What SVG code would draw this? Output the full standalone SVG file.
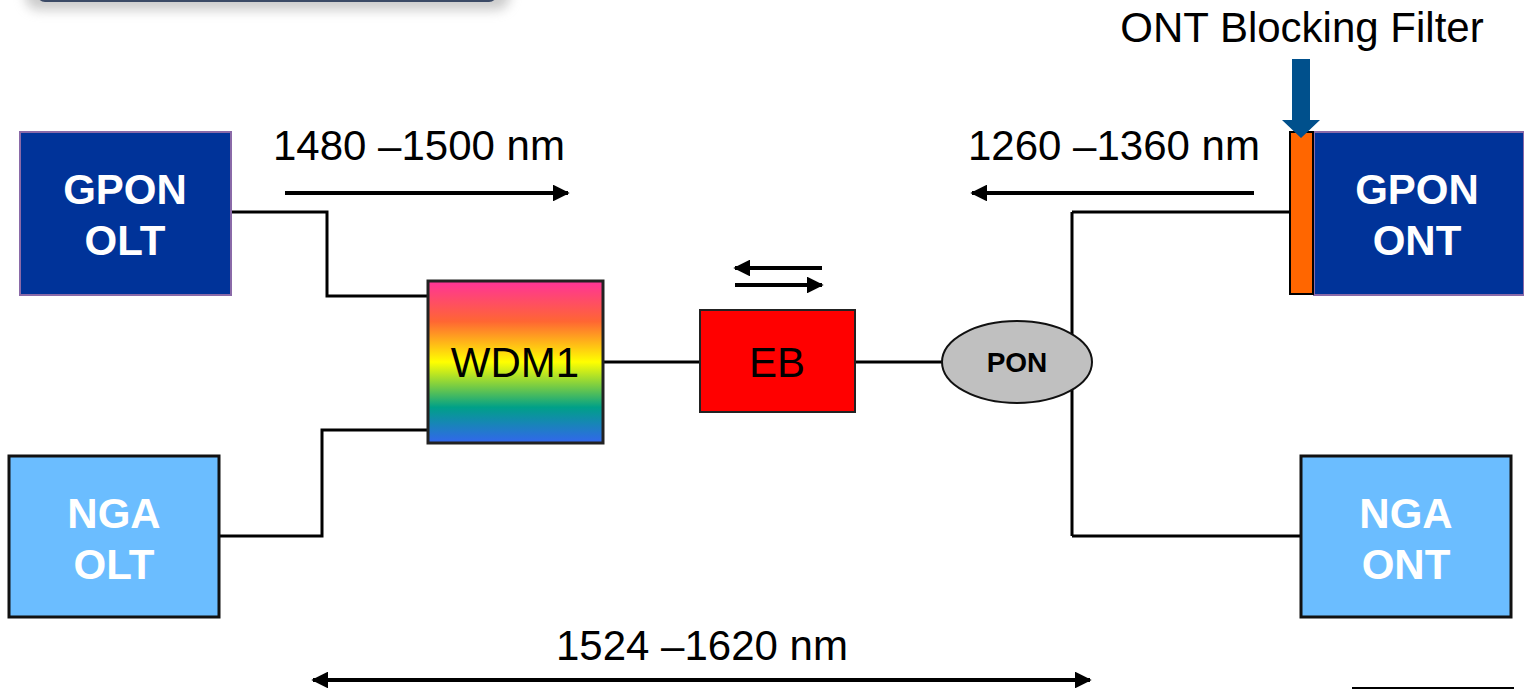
<svg xmlns="http://www.w3.org/2000/svg" width="1524" height="689" viewBox="0 0 1524 689">
<style>
.lbl{font-family:"Liberation Sans",Arial,sans-serif;font-size:42px;fill:#000}
.nodeTxt{font-family:"Liberation Sans",Arial,sans-serif;font-size:42px;font-weight:bold;fill:#fff;text-anchor:middle}
.wire{fill:none;stroke:#000;stroke-width:3}
.arr{fill:none;stroke:#000;stroke-width:4}
</style>
<defs>
<marker id="ah" viewBox="0 0 10 10" refX="9" refY="5" markerWidth="4.2" markerHeight="4.2" orient="auto-start-reverse" markerUnits="strokeWidth">
<path d="M0,0 L10,5 L0,10 z" fill="#000"/>
</marker>
<linearGradient id="rainbow" x1="0" y1="0" x2="0" y2="1">
<stop offset="0" stop-color="#ff3399"/>
<stop offset="0.25" stop-color="#ff6633"/>
<stop offset="0.5" stop-color="#ffff00"/>
<stop offset="0.65" stop-color="#77cc44"/>
<stop offset="0.78" stop-color="#00a088"/>
<stop offset="1" stop-color="#3366ee"/>
</linearGradient>
<filter id="shadow" x="-10%" y="-50%" width="120%" height="250%">
<feGaussianBlur stdDeviation="6"/>
</filter>
</defs>

<g id="top-banner">
<rect x="25" y="-40" width="485" height="50" rx="14" fill="#999" opacity="0.5" filter="url(#shadow)"/>
<rect x="37" y="-40" width="460" height="42" rx="8" fill="#3b4a66"/>
</g>

<g id="connectors">
<polyline class="wire" points="231,212 327,212 327,296 427,296"/>
<polyline class="wire" points="219,536 322,536 322,430 427,430"/>
<line class="wire" x1="603" y1="362" x2="700" y2="362"/>
<line class="wire" x1="855" y1="362" x2="942" y2="362"/>
<line class="wire" x1="1072" y1="212" x2="1072" y2="536"/>
<line class="wire" x1="1072" y1="212" x2="1290" y2="212"/>
<line class="wire" x1="1072" y1="536" x2="1301" y2="536"/>
<line class="arr" x1="285" y1="193" x2="568" y2="193" marker-end="url(#ah)"/>
<line class="arr" x1="1254" y1="193" x2="972" y2="193" marker-end="url(#ah)"/>
<line class="arr" x1="822" y1="268" x2="735" y2="268" marker-end="url(#ah)"/>
<line class="arr" x1="735" y1="285" x2="822" y2="285" marker-end="url(#ah)"/>
<line class="arr" x1="313" y1="680" x2="1090" y2="680" marker-start="url(#ah)" marker-end="url(#ah)"/>
<line x1="1352" y1="688" x2="1514" y2="688" stroke="#000" stroke-width="2"/>
</g>

<g id="gpon-olt">
<rect x="20" y="132" width="211" height="163" fill="#003399" stroke="#8a6aa8" stroke-width="2"/>
<text class="nodeTxt" x="125" y="204">GPON</text>
<text class="nodeTxt" x="125" y="255">OLT</text>
</g>

<g id="nga-olt">
<rect x="9" y="456" width="210" height="161" fill="#6bbdff" stroke="#111" stroke-width="3"/>
<text class="nodeTxt" x="114" y="528">NGA</text>
<text class="nodeTxt" x="114" y="579">OLT</text>
</g>

<g id="wdm1">
<rect x="428" y="281" width="175" height="162" fill="url(#rainbow)" stroke="#222" stroke-width="3"/>
<text class="lbl" x="515" y="377" text-anchor="middle" font-size="40">WDM1</text>
</g>

<g id="eb">
<rect x="700" y="310" width="155" height="102" fill="#ff0000" stroke="#222" stroke-width="2"/>
<text class="lbl" x="777" y="377" text-anchor="middle" font-size="40">EB</text>
</g>

<g id="pon">
<ellipse cx="1017" cy="362" rx="75" ry="41" fill="#c0c0c0" stroke="#111" stroke-width="2"/>
<text x="1017" y="372" text-anchor="middle" font-family="Liberation Sans, Arial, sans-serif" font-size="28" font-weight="bold" fill="#000">PON</text>
</g>

<g id="gpon-ont">
<rect x="1314" y="132" width="210" height="163" fill="#003399" stroke="#8a6aa8" stroke-width="2"/>
<text class="nodeTxt" x="1417" y="204">GPON</text>
<text class="nodeTxt" x="1417" y="255">ONT</text>
</g>

<g id="ont-blocking-filter">
<rect x="1290" y="132" width="23" height="162" fill="#ff6600" stroke="#000" stroke-width="2"/>
<path d="M1292,59 H1310 V120 H1320 L1301,138 L1282,120 H1292 Z" fill="#00508c"/>
<text class="lbl" x="1302" y="42" text-anchor="middle">ONT Blocking Filter</text>
</g>

<g id="nga-ont">
<rect x="1301" y="456" width="210" height="161" fill="#6bbdff" stroke="#111" stroke-width="3"/>
<text class="nodeTxt" x="1406" y="528">NGA</text>
<text class="nodeTxt" x="1406" y="579">ONT</text>
</g>

<g id="labels">
<text class="lbl" x="273" y="160">1480 –1500 nm</text>
<text class="lbl" x="968" y="160">1260 –1360 nm</text>
<text class="lbl" x="556" y="660">1524 –1620 nm</text>
</g>
</svg>
